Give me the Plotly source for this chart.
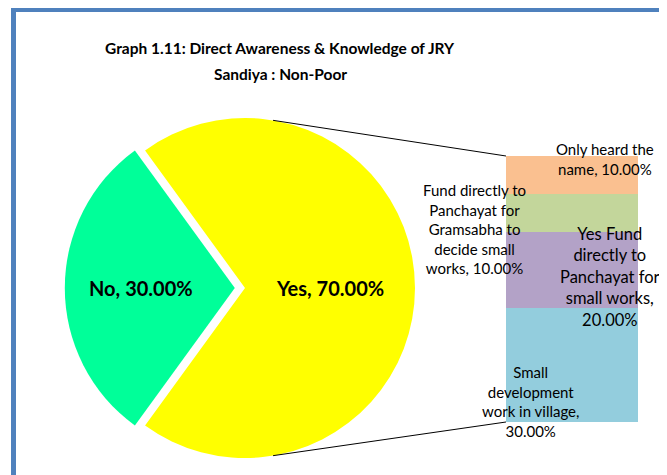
import math
import plotly.graph_objects as go

# ---- data ----
pie_labels = ["Yes", "No"]
pie_values = [70, 30]
pie_colors = ["#FFFF00", "#00FF99"]

bar_labels = [
    "Small<br>development<br>work in village",
    "Yes Fund<br>directly to<br>Panchayat for<br>small works",
    "Fund directly to<br>Panchayat for<br>Gramsabha to<br>decide small<br>works",
    "Only heard the<br>name",
]
bar_values = [30, 20, 10, 10]
bar_colors = ["#93CDDD", "#B3A2C7", "#C3D69B", "#FAC090"]

title_lines = ["Graph 1.11: Direct Awareness & Knowledge of JRY", "Sandiya : Non-Poor"]

# page body has an 8px margin; work in window pixels and convert
OFF = 8
W, H = 667 - OFF, 475 - OFF
FONT = "Lato, Carlito, Calibri, sans-serif"


def px(x, y):
    # window pixel -> paper coords
    return (x - OFF) / W, 1 - (y - OFF) / H


# pie geometry (window pixels)
cx, cy, r, pull = 245, 288, 170, 0.06
half = r * (1 + pull)
x0, y1 = px(cx - half, cy - half)
x1, y0 = px(cx + half, cy + half)

# bar geometry (window pixels)
bx0, bx1, by_top, by_bot = 506, 638, 156, 422
total = sum(pie_values)

fig = go.Figure()

fig.add_trace(go.Pie(
    labels=pie_labels,
    values=pie_values,
    sort=False,
    direction="clockwise",
    rotation=-36,
    pull=[0, pull],
    marker=dict(colors=pie_colors, line=dict(width=0)),
    texttemplate="%{label}, %{percent:.2%}",
    textposition="inside",
    insidetextorientation="horizontal",
    textfont=dict(family=FONT, size=20, color="black", weight="bold"),
    domain=dict(x=[x0, x1], y=[y0, y1]),
    showlegend=False,
    hoverinfo="label+percent",
))

for lab, val, col in zip(bar_labels, bar_values, bar_colors):
    fig.add_trace(go.Bar(
        x=["Other"], y=[val], name=lab.replace("<br>", " "),
        marker=dict(color=col, line=dict(width=0)),
        showlegend=False,
    ))

annotations = []
for line, ty in zip(title_lines, [48, 74]):
    annotations.append(dict(
        text=line, x=px(280, 0)[0], y=px(0, ty)[1], xref="paper", yref="paper",
        xanchor="center", yanchor="middle", showarrow=False,
        font=dict(family=FONT, size=15.5, color="black", weight="bold"),
    ))

# label placement for the bar segments: (centre x, centre y, font size, separator)
label_pos = [
    (530, 401, 15, ",<br>"),
    (610, 277, 16.5, ",<br>"),
    (474, 229, 15, ", "),
    (605, 159, 15, ", "),
]
for lab, val, (lx, ly, fs, sep) in zip(bar_labels, bar_values, label_pos):
    ax, ay = px(lx, ly)
    annotations.append(dict(
        text=f"{lab}{sep}{val / total:.2%}", x=ax, y=ay, xref="paper", yref="paper",
        xanchor="center", yanchor="middle", showarrow=False, align="center",
        font=dict(family=FONT, size=fs, color="black"),
    ))

# connector lines from the pie edge to the bar corners
ang = math.radians(9.5)
shapes = []
for sgn, by in [(-1, by_top), (1, by_bot)]:
    sx, sy = cx + r * math.sin(ang), cy + sgn * r * math.cos(ang)
    a0, b0 = px(sx, sy)
    a1, b1 = px(bx0, by)
    shapes.append(dict(type="line", xref="paper", yref="paper", x0=a0, y0=b0, x1=a1, y1=b1,
                       line=dict(color="black", width=1)))

# blue frame (left and top)
fx, fy = 13.5, 9.5
shapes.append(dict(type="line", xref="paper", yref="paper", x0=px(fx, 0)[0], x1=px(fx, 0)[0],
                   y0=px(0, fy)[1], y1=0, line=dict(color="#4F81BD", width=5)))
shapes.append(dict(type="line", xref="paper", yref="paper", x0=px(fx - 2.5, 0)[0], x1=1,
                   y0=px(0, fy)[1], y1=px(0, fy)[1], line=dict(color="#4F81BD", width=5)))

fig.update_layout(
    width=W, height=H,
    margin=dict(l=0, r=0, t=0, b=0),
    paper_bgcolor="white", plot_bgcolor="rgba(0,0,0,0)",
    barmode="stack", bargap=0,
    xaxis=dict(domain=[px(bx0, 0)[0], px(bx1, 0)[0]], range=[-0.5, 0.5], visible=False, fixedrange=True),
    yaxis=dict(domain=[px(0, by_bot)[1], px(0, by_top)[1]], range=[0, total - pie_values[1]],
               visible=False, fixedrange=True),
    annotations=annotations,
    shapes=shapes,
    font=dict(family=FONT),
)

fig.write_html("out.html")
